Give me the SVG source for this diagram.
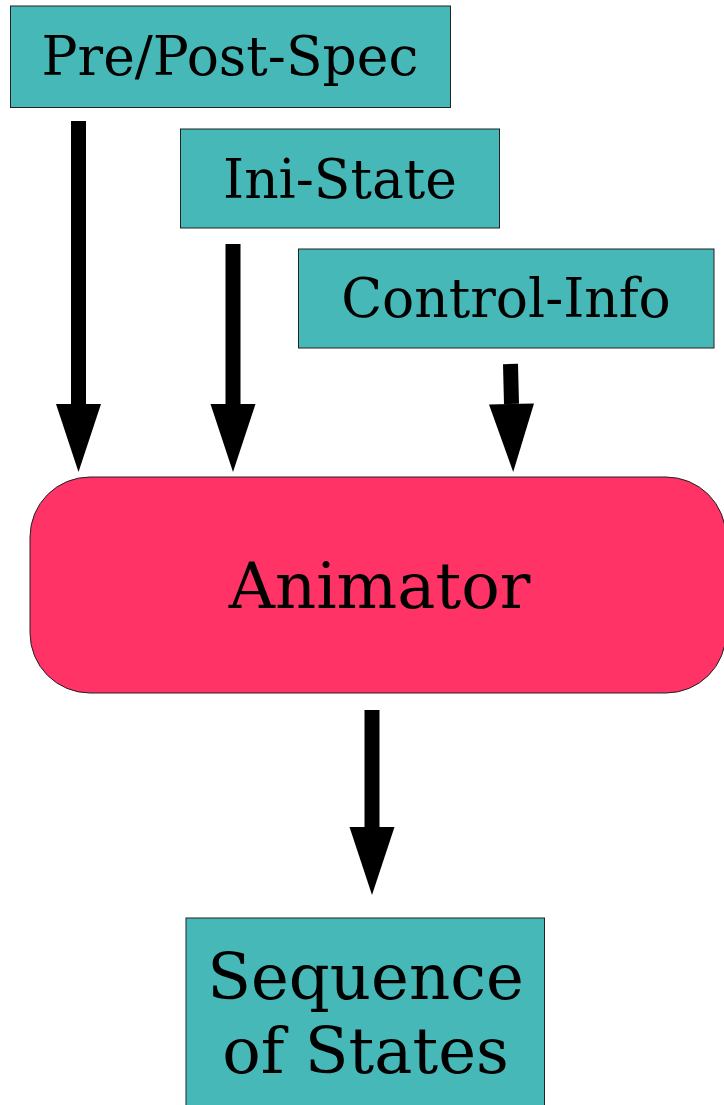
<svg xmlns="http://www.w3.org/2000/svg" width="724" height="1105" viewBox="0 0 724 1105">
  <style>
    .box { fill: #47b8b8; stroke: #222; stroke-width: 1; }
    .proc { fill: #ff3366; stroke: #222; stroke-width: 1; }
    .lbl { font-family: "DejaVu Serif", "Liberation Serif", serif; fill: #000; text-anchor: middle; }
    .flow { stroke: #000; stroke-width: 15; fill: none; marker-end: url(#head); }
  </style>
  <defs>
    <marker id="head" markerUnits="strokeWidth" markerWidth="4.6" markerHeight="3" refX="0" refY="1.5" orient="auto" overflow="visible">
      <path d="M0,0 L4.53,1.5 L0,3 Z" fill="#000"/>
    </marker>
  </defs>
  <rect width="724" height="1105" fill="#fff"/>

  <g id="connectors">
    <path class="flow" d="M78.5,121 L78.5,404"/>
    <path class="flow" d="M233,244 L233,404"/>
    <path class="flow" d="M510.5,364 L511.5,404"/>
    <path class="flow" d="M372,710 L372,827"/>
  </g>

  <g id="pre-post-spec">
    <rect class="box" x="10.5" y="6" width="440" height="101.5"/>
    <text class="lbl" x="230" y="75" font-size="53.5">Pre/Post-Spec</text>
  </g>

  <g id="ini-state">
    <rect class="box" x="180.5" y="129" width="319" height="99"/>
    <text class="lbl" x="340" y="198" font-size="53.5">Ini-State</text>
  </g>

  <g id="control-info">
    <rect class="box" x="298.5" y="249" width="415.5" height="99"/>
    <text class="lbl" x="506" y="317" font-size="53.5">Control-Info</text>
  </g>

  <g id="animator">
    <rect class="proc" x="30" y="477" width="696" height="216" rx="60" ry="60"/>
    <text class="lbl" x="379.5" y="608" font-size="64">Animator</text>
  </g>

  <g id="sequence-of-states">
    <rect class="box" x="186" y="918" width="358.5" height="200"/>
    <text class="lbl" x="365.5" y="999" font-size="64">Sequence</text>
    <text class="lbl" x="365.5" y="1073" font-size="64">of States</text>
  </g>
</svg>
